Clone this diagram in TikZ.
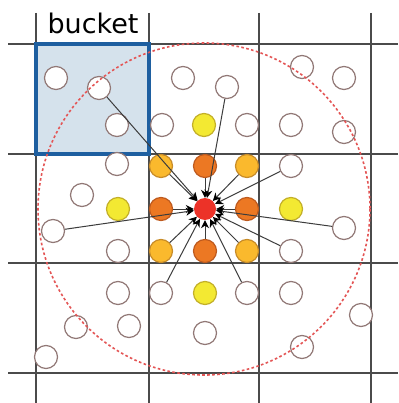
\documentclass[tikz,border=0pt]{standalone}
\usepackage{fontspec}
\newfontfamily\bucketfont{DejaVu Sans}
\usetikzlibrary{arrows.meta}
\definecolor{gridcol}{RGB}{75,75,75}
\definecolor{whiteedge}{RGB}{145,120,118}
\definecolor{yfill}{RGB}{243,233,50}
\definecolor{yedge}{RGB}{195,175,40}
\definecolor{lofill}{RGB}{250,185,45}
\definecolor{loedge}{RGB}{200,140,40}
\definecolor{ofill}{RGB}{236,120,35}
\definecolor{oedge}{RGB}{190,90,30}
\definecolor{rfill}{RGB}{236,50,40}
\definecolor{bfill}{RGB}{213,226,236}
\definecolor{bedge}{RGB}{30,95,160}
\definecolor{dashred}{RGB}{228,85,85}
\definecolor{arrcol}{RGB}{60,60,60}
\begin{document}
\begin{tikzpicture}[x=1pt,y=-1pt,
  gridline/.style={draw=gridcol,line width=1.2pt},
  dot/.style={circle,minimum size=23pt,inner sep=0pt,line width=1.2pt},
  wdot/.style={dot,draw=whiteedge,fill=white},
  ydot/.style={dot,draw=yedge,fill=yfill},
  lodot/.style={dot,draw=loedge,fill=lofill},
  odot/.style={dot,draw=oedge,fill=ofill},
  rdot/.style={circle,minimum size=22pt,inner sep=0pt,fill=rfill},
  arr/.style={draw=arrcol,line width=1pt,-{Stealth[length=8pt,width=8pt,black]}},
  bucketbox/.style={draw=bedge,line width=3.5pt},
  rangecircle/.style={draw=dashred,line width=1.6pt,dash pattern=on 2.6pt off 2.4pt}
]
\useasboundingbox (0,0) rectangle (398,403);
\fill[white] (0,0) rectangle (398,403);
% bucket fill
\fill[bfill] (36,44) rectangle (149,154);
% grid
\foreach \x in {36,149,259,371} \draw[gridline] (\x,13) -- (\x,403);
\foreach \y in {44,154,263,373} \draw[gridline] (8,\y) -- (398,\y);
\draw[bucketbox] (36,44) rectangle (149,154);
\node[font=\bucketfont\fontsize{27}{30}\selectfont,anchor=base,inner sep=0pt] (label) at (93,34) {bucket};
% white particles
\node[wdot] (w1) at (56,78) {};
\node[wdot] (w2) at (99,88) {};
\node[wdot] (w3) at (117,125) {};
\node[wdot] (w4) at (183,78) {};
\node[wdot] (w5) at (162,125) {};
\node[wdot] (w6) at (227,87) {};
\node[wdot] (w7) at (302,67) {};
\node[wdot] (w8) at (344,78) {};
\node[wdot] (w9) at (247,125) {};
\node[wdot] (w10) at (291,125) {};
\node[wdot] (w11) at (344,132) {};
\node[wdot] (w12) at (117,164) {};
\node[wdot] (w13) at (291,166) {};
\node[wdot] (w14) at (82,195) {};
\node[wdot] (w15) at (53,231) {};
\node[wdot] (w16) at (344,228) {};
\node[wdot] (w17) at (118,251) {};
\node[wdot] (w18) at (291,251) {};
\node[wdot] (w19) at (118,293) {};
\node[wdot] (w20) at (161,293) {};
\node[wdot] (w21) at (247,293) {};
\node[wdot] (w22) at (291,293) {};
\node[wdot] (w23) at (76,327) {};
\node[wdot] (w24) at (129,326) {};
\node[wdot] (w25) at (205,333) {};
\node[wdot] (w26) at (361,315) {};
\node[wdot] (w27) at (302,347) {};
\node[wdot] (w28) at (46,357) {};
% coloured particles
\node[ydot] (y1) at (204,125) {};
\node[ydot] (y2) at (118,209) {};
\node[ydot] (y3) at (291,209) {};
\node[ydot] (y4) at (205,293) {};
\node[lodot] (l1) at (161,166) {};
\node[lodot] (l2) at (247,166) {};
\node[lodot] (l3) at (161,251) {};
\node[lodot] (l4) at (247,251) {};
\node[odot] (o1) at (205,166) {};
\node[odot] (o2) at (161,209) {};
\node[odot] (o3) at (247,209) {};
\node[odot] (o4) at (205,251) {};
\node[rdot] (c) at (205,209) {};
% search range
\draw[rangecircle] (204,209) circle[radius=166];
% arrows
\foreach \n in {l1,l2,l3,l4,o1,o2,o3,o4,w2,w6,w13,w15,w16,w18,w20,w21}
  \draw[arr] (\n) -- (c);
\end{tikzpicture}
\end{document}
